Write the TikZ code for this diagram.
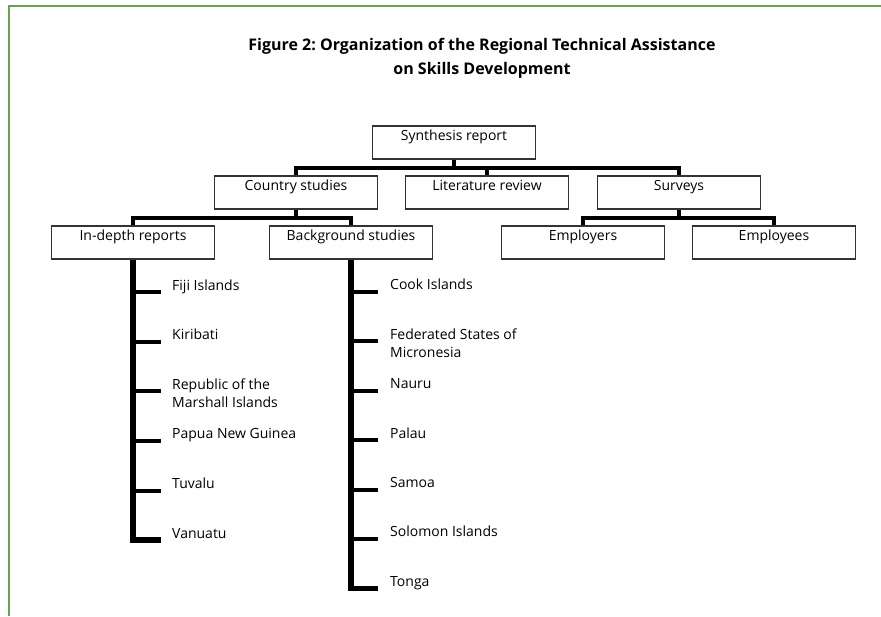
\documentclass[tikz,border=0pt]{standalone}
\RequirePackage{fontspec}
\setmainfont{Open Sans}
\RequirePackage{tikz}
\usetikzlibrary{calc}
\frenchspacing

\definecolor{framegreen}{RGB}{104,160,84}

\tikzset{
  box/.style={draw=black!80, line width=1.3pt, minimum width=163pt, inner ysep=3pt,
    text height=11pt, text depth=16pt, font=\fontsize{14}{17}\selectfont},
  bar/.style={line width=4.5pt},
  spine/.style={line width=5.5pt},
  tick/.style={line width=4pt},
  item/.style={anchor=base west, inner sep=0pt, align=left,
    font=\fontsize{14}{18}\selectfont}
}

\begin{document}
\begin{tikzpicture}[x=1pt,y=-1pt]
                    \useasboundingbox (0,0) rectangle (881,616);
                    \draw[framegreen,line width=2pt] (9,616) -- (9,5.5) -- (881,5.5);
                    \node[font=\bfseries\fontsize{16}{24}\selectfont,align=center] (title) at (482,58)
                        {Figure 2: Organization of the Regional Technical Assistance\\on Skills Development};
                    % boxes
                    \node[box] (synth) at (454,142.5) {Synthesis report};
                    \node[box] (country) at (296,192.5) {Country studies};
                    \node[box] (litrev) at (487,192.5) {Literature review};
                    \node[box] (surveys) at (679,192.5) {Surveys};
                    \node[box] (indepth) at (133,242.5) {In-depth reports};
                    \node[box] (backgr) at (351,242.5) {Background studies};
                    \node[box] (employers) at (583,242.5) {Employers};
                    \node[box] (employees) at (774,242.5) {Employees};
                    % tree bars
                    \draw[bar] (synth.south) -- ++(0,8.5) -| (country.north);
                    \draw[bar] (synth.south) -- ++(0,8.5) -| (litrev.north);
                    \draw[bar] (synth.south) -- ++(0,8.5) -| (surveys.north);
                    \draw[bar] (country.south) -- ++(0,8.5) -| (indepth.north);
                    \draw[bar] (country.south) -- ++(0,8.5) -| (backgr.north);
                    \draw[bar] (surveys.south) -- ++(0,8.5) -| (employers.north);
                    \draw[bar] (surveys.south) -- ++(0,8.5) -| (employees.north);
                    % in-depth list (\dy = extra lines below the first)
                    \foreach \name/\txt/\dy [count=\i] in {fiji/Fiji Islands/0, kiri/Kiribati/0,
                        rmi/{Republic of the\\Marshall Islands}/18, png/Papua New Guinea/0,
                        tuv/Tuvalu/0, van/Vanuatu/0} {
                        \coordinate (ind\i) at (161,{242.5+49.6*\i});
                        \node[item] (\name) at ($(ind\i)+(11,-2+\dy)$) {\txt};
                        \draw[tick] (indepth.south |- ind\i) -- (ind\i);
                    }
                    \draw[spine] (indepth.south) |- (ind6);
                    % background list
                    \foreach \name/\txt/\dy [count=\i] in {cook/Cook Islands/0,
                        fsm/{Federated States of\\Micronesia}/18, nauru/Nauru/0, palau/Palau/0,
                        samoa/Samoa/0, solomon/Solomon Islands/0, tonga/Tonga/0} {
                        \coordinate (bgd\i) at (378,{242.5+49.4*\i});
                        \node[item] (\name) at ($(bgd\i)+(12,-2+\dy)$) {\txt};
                        \draw[tick] (backgr.south |- bgd\i) -- (bgd\i);
                    }
                    \draw[spine] (backgr.south) |- (bgd7);
                \end{tikzpicture}
\end{document}
